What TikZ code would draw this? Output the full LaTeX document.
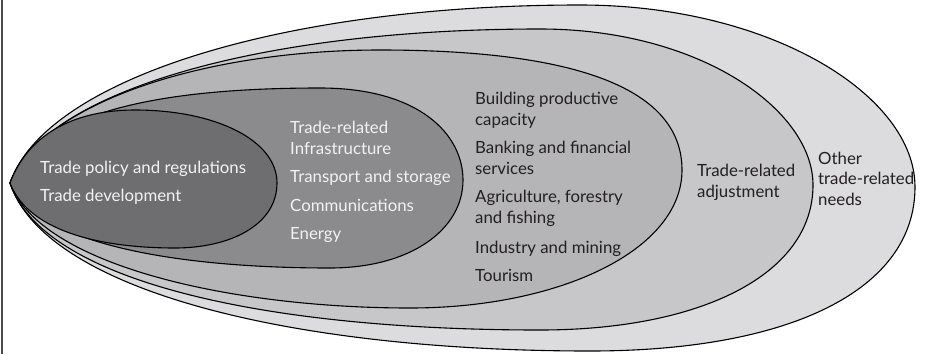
\documentclass[tikz,border=0pt]{standalone}
\usepackage{fontspec}
\setmainfont{Lato}
\usepackage{xcolor}
\definecolor{eggA}{HTML}{6E6E70}
\definecolor{eggB}{HTML}{8B8B8D}
\definecolor{eggC}{HTML}{B5B5B7}
\definecolor{eggD}{HTML}{C7C7C9}
\definecolor{eggE}{HTML}{DCDCDE}
\definecolor{ink}{HTML}{231F20}
\begin{document}
\begin{tikzpicture}[x=1pt,y=-1pt,
  egg/.style={draw=black,line width=1.1pt},
  lbl/.style={anchor=base west,inner sep=0pt,align=left,text=ink,
    font=\fontsize{16.8}{20.5}\selectfont},
  wlbl/.style={lbl,text=white!95!black}]
\useasboundingbox (0,0) rectangle (929,354);
\draw[line width=1.4pt,black!70](2,0)--(2,354);
\coordinate (tip) at (10,183);
% the five nested eggs, outermost first
\draw[egg,fill=eggE](tip) .. controls (45,80) and (280,5) .. (580,5)
  .. controls (770,5) and (915,95) .. (915,187)
  .. controls (915,290) and (790,351) .. (590,351)
  .. controls (290,351) and (45,290) .. (tip);
\draw[egg,fill=eggD](tip) .. controls (42,95) and (250,29) .. (540,29)
  .. controls (700,29) and (813,110) .. (813,185)
  .. controls (813,275) and (700,330) .. (540,330)
  .. controls (260,330) and (42,280) .. (tip);
\draw[egg,fill=eggC](tip) .. controls (40,105) and (200,50) .. (380,50)
  .. controls (580,50) and (682,90) .. (682,170)
  .. controls (682,250) and (560,308) .. (410,308)
  .. controls (230,308) and (40,265) .. (tip);
\draw[egg,fill=eggB](tip) .. controls (38,115) and (150,88) .. (320,88)
  .. controls (420,88) and (463,135) .. (463,180)
  .. controls (463,230) and (410,268) .. (330,268)
  .. controls (180,268) and (38,245) .. (tip);
\draw[egg,fill=eggA](tip) .. controls (30,130) and (80,110) .. (135,110)
  .. controls (215,110) and (277,140) .. (277,183)
  .. controls (277,225) and (230,248) .. (175,248)
  .. controls (110,248) and (30,235) .. (tip);
% labels (anchored on the baseline of their last line)
\node[wlbl] (policy) at (40,173) {Trade policy and regulations};
\node[wlbl] (devel) at (40,201) {Trade development};
\node[wlbl] (infra) at (290,154) {Trade-related\\Infrastructure};
\node[wlbl] (transp) at (290,182) {Transport and storage};
\node[wlbl] (comm) at (290,211) {Communications};
\node[wlbl] (energy) at (290,239) {Energy};
\node[lbl] (capac) at (475,125) {Building productive\\capacity};
\node[lbl] (bank) at (475,174) {Banking and financial\\services};
\node[lbl] (agri) at (475,223) {Agriculture, forestry\\and fishing};
\node[lbl] (indus) at (475,253) {Industry and mining};
\node[lbl] (tour) at (475,281) {Tourism};
\node[lbl] (adjust) at (697,197) {Trade-related\\adjustment};
\node[lbl] (other) at (818,205) {Other\\trade-related\\needs};
\end{tikzpicture}
\end{document}
